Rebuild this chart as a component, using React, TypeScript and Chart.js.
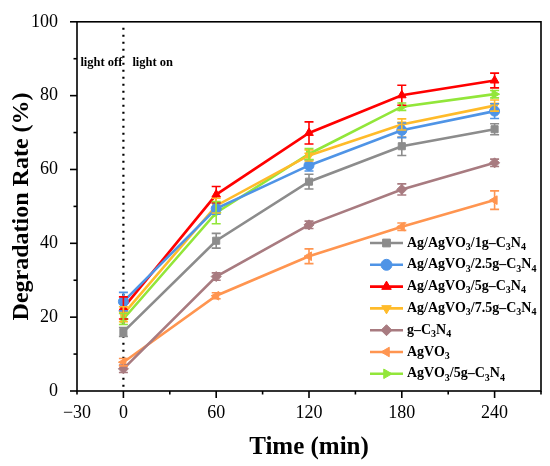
import React, { useEffect, useRef } from 'react';
import { Chart, registerables } from 'chart.js';
import { drawPoint } from 'chart.js/helpers';

Chart.register(...registerables);

// time points (min)
const times = [0, 60, 120, 180, 240];

// labels, "_" marks the next char as subscript
const seriesLabels = [
  'Ag/AgVO_3/1g–C_3N_4',
  'Ag/AgVO_3/2.5g–C_3N_4',
  'Ag/AgVO_3/5g–C_3N_4',
  'Ag/AgVO_3/7.5g–C_3N_4',
  'g–C_3N_4',
  'AgVO_3',
  'AgVO_3/5g–C_3N_4',
];

// degradation rate (%)
const rate1g = [16.0, 40.7, 56.7, 66.3, 70.9];
const rate25g = [24.2, 49.4, 61.1, 70.6, 75.8];
const rate5g = [22.5, 53.2, 69.9, 80.1, 84.1];
const rate75g = [20.8, 50.2, 63.8, 72.2, 77.3];
const rateGCN = [6.0, 31.0, 45.0, 54.6, 61.8];
const rateAgVO3 = [7.8, 25.8, 36.5, 44.5, 51.7];
const rateAgVO35g = [19.5, 48.3, 64.2, 77.0, 80.4];

// error bars (±)
const err1g = [1.2, 2.0, 2.0, 2.5, 1.5];
const err25g = [2.5, 1.5, 1.5, 2.0, 2.0];
const err5g = [3.0, 2.2, 3.0, 2.7, 2.0];
const err75g = [2.0, 2.0, 1.5, 1.5, 1.5];
const errGCN = [1.0, 1.0, 1.0, 1.5, 1.0];
const errAgVO3 = [1.0, 0.8, 2.0, 1.0, 2.5];
const errAgVO35g = [1.5, 3.0, 1.5, 1.0, 1.0];

const series = [
  { data: rate1g, err: err1g, color: '#8c8c8c', style: 'rect', rot: 0 },
  { data: rate25g, err: err25g, color: '#4f94e6', style: 'circle', rot: 0 },
  { data: rate5g, err: err5g, color: '#ff0000', style: 'triangle', rot: 0 },
  { data: rate75g, err: err75g, color: '#ffbb2a', style: 'triangle', rot: 180 },
  { data: rateGCN, err: errGCN, color: '#a87b80', style: 'rectRot', rot: 0 },
  { data: rateAgVO3, err: errAgVO3, color: '#ff9550', style: 'triangle', rot: 270 },
  { data: rateAgVO35g, err: errAgVO35g, color: '#92e63a', style: 'triangle', rot: 90 },
];

const SERIF = '"Liberation Serif", "Times New Roman", serif';

function drawSubText(ctx: CanvasRenderingContext2D, text: string, x: number, y: number, size: number) {
  let cx = x;
  let i = 0;
  while (i < text.length) {
    if (text[i] === '_') {
      const ch = text[i + 1];
      ctx.font = `bold ${Math.round(size * 0.72)}px ${SERIF}`;
      ctx.fillText(ch, cx, y + size * 0.3);
      cx += ctx.measureText(ch).width;
      i += 2;
    } else {
      let j = i;
      while (j < text.length && text[j] !== '_') j++;
      const part = text.slice(i, j);
      ctx.font = `bold ${size}px ${SERIF}`;
      ctx.fillText(part, cx, y);
      cx += ctx.measureText(part).width;
      i = j;
    }
  }
}

const decorPlugin = {
  id: 'decor',
  beforeDatasetsDraw(chart: any) {
    const { ctx, chartArea, scales } = chart;
    const x0 = scales.x.getPixelForValue(0);
    ctx.save();
    ctx.strokeStyle = '#000';
    ctx.lineWidth = 2.2;
    ctx.setLineDash([2, 5]);
    ctx.beginPath();
    ctx.moveTo(x0, chartArea.top + 6);
    ctx.lineTo(x0, chartArea.bottom);
    ctx.stroke();
    ctx.setLineDash([]);
    ctx.fillStyle = '#000';
    ctx.font = `bold 12.5px ${SERIF}`;
    ctx.textBaseline = 'alphabetic';
    ctx.textAlign = 'right';
    ctx.fillText('light off', x0 - 1, 66);
    ctx.textAlign = 'left';
    ctx.fillText('light on', x0 + 9, 66);
    ctx.restore();
  },
  afterDatasetsDraw(chart: any) {
    const { ctx, chartArea, scales } = chart;
    const ys = scales.y;
    const xs = scales.x;
    ctx.save();
    // error bars
    chart.data.datasets.forEach((ds: any, i: number) => {
      const meta = chart.getDatasetMeta(i);
      ctx.strokeStyle = ds.borderColor;
      ctx.lineWidth = 1.6;
      meta.data.forEach((pt: any, j: number) => {
        const v = series[i].data[j];
        const e = series[i].err[j];
        const top = ys.getPixelForValue(v + e);
        const bot = ys.getPixelForValue(v - e);
        ctx.beginPath();
        ctx.moveTo(pt.x, top);
        ctx.lineTo(pt.x, bot);
        ctx.moveTo(pt.x - 4.5, top);
        ctx.lineTo(pt.x + 4.5, top);
        ctx.moveTo(pt.x - 4.5, bot);
        ctx.lineTo(pt.x + 4.5, bot);
        ctx.stroke();
      });
    });
    // frame
    ctx.strokeStyle = '#000';
    ctx.lineWidth = 1.6;
    ctx.strokeRect(chartArea.left, chartArea.top, chartArea.right - chartArea.left, chartArea.bottom - chartArea.top);
    // ticks
    for (let v = 0; v <= 100; v += 10) {
      const y = ys.getPixelForValue(v);
      const len = v % 20 === 0 ? 7 : 3.5;
      ctx.beginPath();
      ctx.moveTo(chartArea.left, y);
      ctx.lineTo(chartArea.left - len, y);
      ctx.stroke();
    }
    for (let v = -30; v <= 270; v += 30) {
      const x = xs.getPixelForValue(v);
      const len = v % 60 === 0 ? 7 : 3.5;
      ctx.beginPath();
      ctx.moveTo(x, chartArea.bottom);
      ctx.lineTo(x, chartArea.bottom + len);
      ctx.stroke();
    }
    // legend inside plot
    const lx = 370;
    const ly = 243;
    const row = 21.8;
    chart.data.datasets.forEach((ds: any, i: number) => {
      const y = ly + i * row;
      ctx.strokeStyle = ds.borderColor;
      ctx.lineWidth = 2.6;
      ctx.beginPath();
      ctx.moveTo(lx, y);
      ctx.lineTo(lx + 33, y);
      ctx.stroke();
      ctx.fillStyle = ds.borderColor;
      ctx.lineWidth = 1;
      drawPoint(ctx, { pointStyle: ds.pointStyle, rotation: ds.pointRotation, radius: 5.5, borderWidth: 1 }, lx + 16.5, y);
      ctx.fillStyle = '#000';
      ctx.textAlign = 'left';
      ctx.textBaseline = 'middle';
      drawSubText(ctx, seriesLabels[i], lx + 37, y, 14);
    });
    ctx.restore();
  },
};

const App: React.FC = () => {
  const canvasRef = useRef<HTMLCanvasElement>(null);
  const chartRef = useRef<Chart | null>(null);

  useEffect(() => {
    document.body.style.margin = '0';
    if (!canvasRef.current) return;
    const ctx = canvasRef.current.getContext('2d');
    if (!ctx) return;
    if (chartRef.current) chartRef.current.destroy();

    chartRef.current = new Chart(ctx, {
      type: 'line',
      data: {
        datasets: series.map((s, i) => ({
          label: seriesLabels[i],
          data: s.data.map((v, j) => ({ x: times[j], y: v })),
          borderColor: s.color,
          backgroundColor: s.color,
          borderWidth: 2.6,
          pointStyle: s.style as any,
          pointRotation: s.rot,
          pointRadius: 5,
          pointBorderWidth: 1,
          tension: 0,
        })),
      },
      options: {
        responsive: true,
        maintainAspectRatio: false,
        animation: false,
        layout: { padding: { top: 16, right: 9, left: 0, bottom: 0 } },
        plugins: {
          legend: { display: false },
          tooltip: { enabled: false },
        },
        scales: {
          x: {
            type: 'linear',
            min: -30,
            max: 270,
            grid: { display: false },
            border: { display: false },
            afterFit: (scale: any) => { scale.height = 75; },
            ticks: {
              stepSize: 30,
              padding: 3,
              color: '#000',
              font: { family: SERIF, size: 18 },
              maxRotation: 0,
              autoSkip: false,
              callback: (v: any) => (v === -30 || (v % 60 === 0 && v <= 240) ? String(v).replace('-', '−') : ''),
            },
            title: {
              display: true,
              text: 'Time (min)',
              color: '#000',
              font: { family: SERIF, size: 25, weight: 'bold' },
              padding: { top: 0, bottom: 3 },
            },
          },
          y: {
            min: 0,
            max: 100,
            grid: { display: false },
            border: { display: false },
            afterFit: (scale: any) => { scale.width = 77; },
            ticks: {
              stepSize: 20,
              padding: 11,
              color: '#000',
              font: { family: SERIF, size: 18 },
            },
            title: {
              display: true,
              text: 'Degradation Rate (%)',
              color: '#000',
              font: { family: SERIF, size: 24, weight: 'bold' },
              padding: { top: 7, bottom: 0 },
            },
          },
        },
      },
      plugins: [decorPlugin],
    });

    return () => {
      if (chartRef.current) {
        chartRef.current.destroy();
        chartRef.current = null;
      }
    };
  }, []);

  return (
    <div style={{ width: 550, height: 466, background: '#fff', position: 'relative' }}>
      <canvas ref={canvasRef} />
    </div>
  );
};

export default App;
